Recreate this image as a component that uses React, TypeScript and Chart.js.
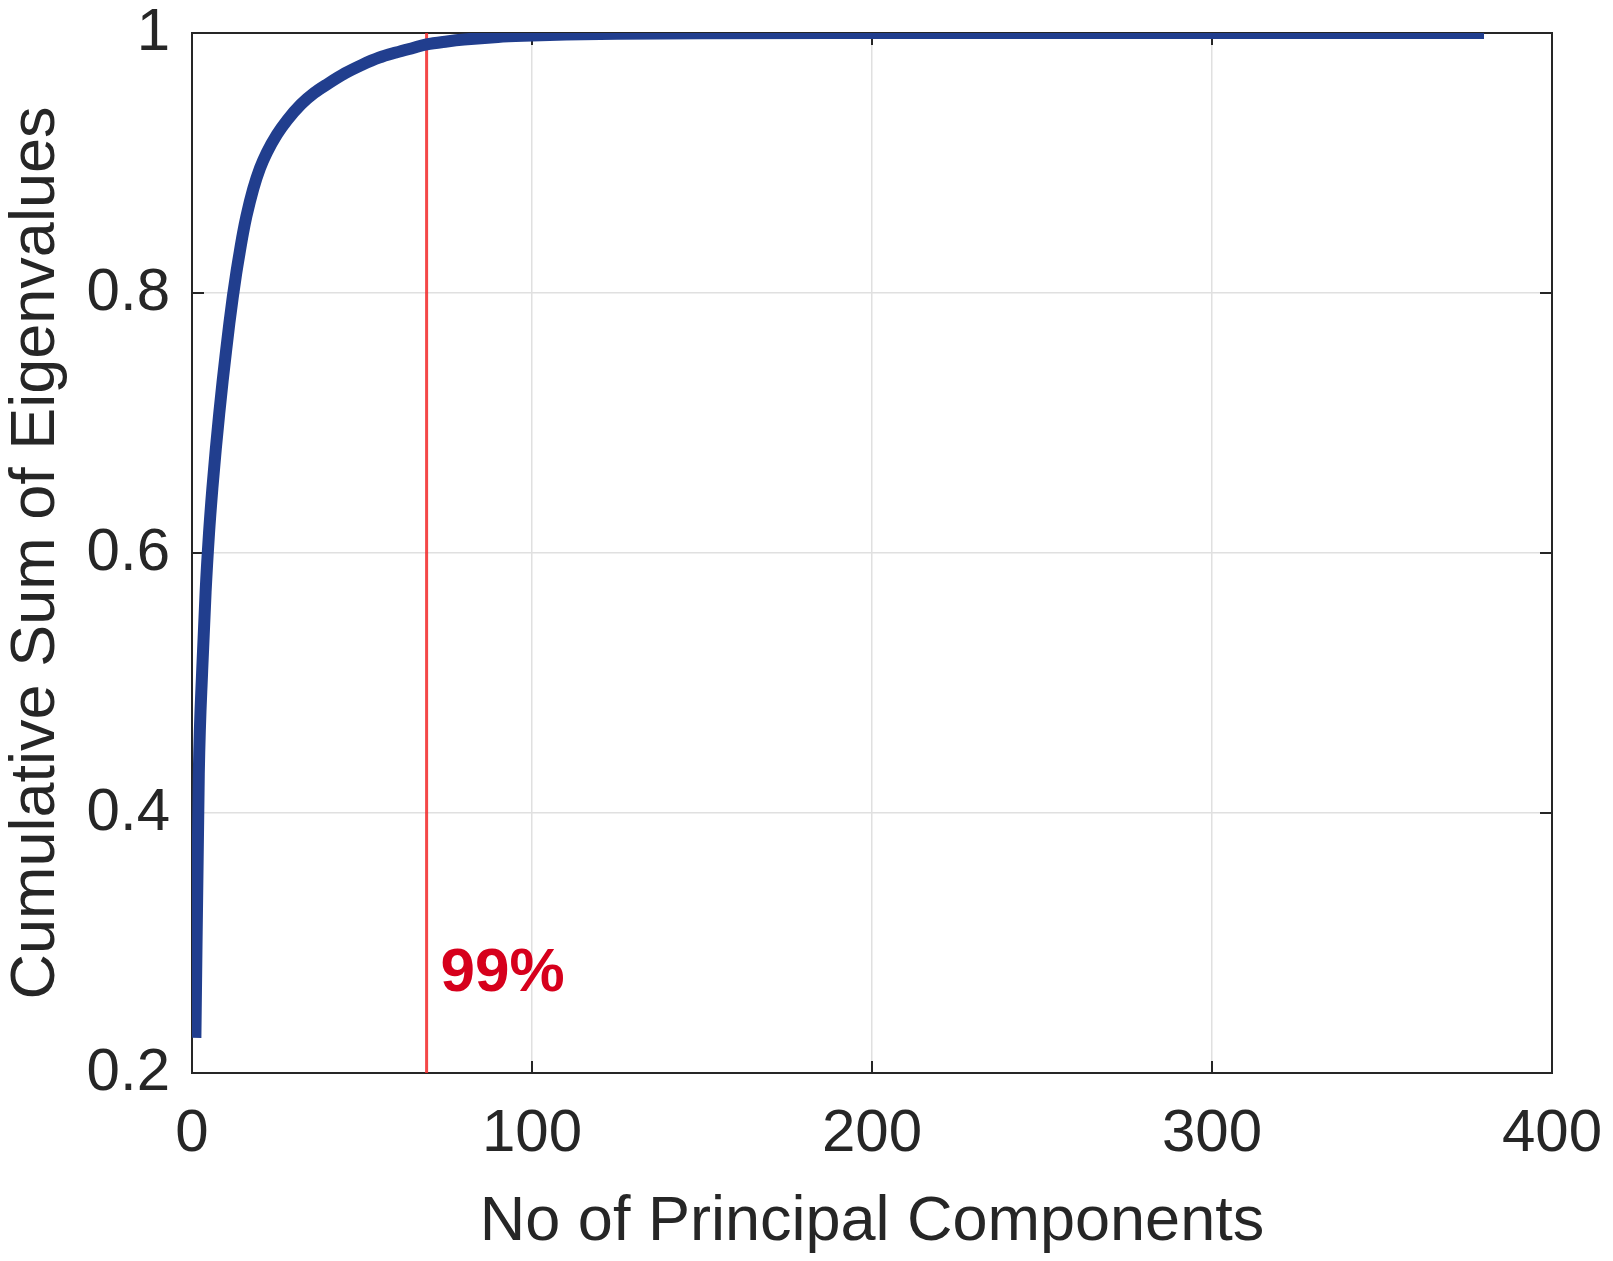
import React, { useEffect, useRef } from "react";
import { Chart, registerables } from "chart.js";

Chart.register(...registerables);

// ---- data ----
const componentNumbers = [1, 2, 3, 4, 5, 6, 7, 8, 9, 10, 11, 12, 13, 14, 15, 16, 18, 20, 22, 25, 28, 32, 36, 40, 45, 50, 55, 60, 65, 69, 75, 80, 90, 100, 110, 125, 150, 200, 250, 380];
const cumulativeSum = [0.227, 0.43, 0.51, 0.57, 0.615, 0.65, 0.68, 0.707, 0.732, 0.755, 0.777, 0.797, 0.815, 0.831, 0.846, 0.859, 0.88, 0.896, 0.908, 0.922, 0.933, 0.945, 0.954, 0.961, 0.969, 0.9755, 0.981, 0.985, 0.9885, 0.9912, 0.9935, 0.995, 0.997, 0.998, 0.9988, 0.9994, 0.9998, 1.0, 1.0, 1.0];
const thresholdComponent = 69;
const thresholdLabel = "99%";
const thresholdLabelY = 0.276;
const xTickValues = [0, 100, 200, 300, 400];
const xTickLabels = ["0", "100", "200", "300", "400"];
const yTickValues = [0.2, 0.4, 0.6, 0.8, 1];
const yTickLabels = ["0.2", "0.4", "0.6", "0.8", "1"];
const xTitle = "No of Principal Components";
const yTitle = "Cumulative Sum of Eigenvalues";

const FONT = "'Liberation Sans', Arial, Helvetica, sans-serif";
const TEXT = "#262626";

function zeroPadding(scale: any) {
  scale.paddingTop = 0;
  scale.paddingBottom = 0;
  scale.paddingLeft = 0;
  scale.paddingRight = 0;
}

export default function App() {
  const ref = useRef<HTMLCanvasElement | null>(null);

  useEffect(() => {
    document.body.style.margin = "0";
    const canvas = ref.current;
    if (!canvas) return;

    const boxPlugin = {
      id: "boxTicks",
      beforeDatasetsDraw(chart: any) {
        const { ctx, chartArea: a, scales } = chart;
        const xs = scales.x;
        const ys = scales.y;
        ctx.save();
        ctx.strokeStyle = TEXT;
        ctx.lineWidth = 2;
        ctx.strokeRect(a.left, a.top, a.right - a.left, a.bottom - a.top);
        const tl = 12;
        ctx.beginPath();
        xTickValues.forEach((v) => {
          const px = xs.getPixelForValue(v);
          ctx.moveTo(px, a.bottom);
          ctx.lineTo(px, a.bottom - tl);
          ctx.moveTo(px, a.top);
          ctx.lineTo(px, a.top + tl);
        });
        yTickValues.forEach((v) => {
          const py = ys.getPixelForValue(v);
          ctx.moveTo(a.left, py);
          ctx.lineTo(a.left + tl, py);
          ctx.moveTo(a.right, py);
          ctx.lineTo(a.right - tl, py);
        });
        ctx.stroke();
        ctx.restore();
      },
      afterDatasetsDraw(chart: any) {
        const { ctx, scales } = chart;
        const px = scales.x.getPixelForValue(thresholdComponent) + 14;
        const py = scales.y.getPixelForValue(thresholdLabelY);
        ctx.save();
        ctx.fillStyle = "#d6001c";
        ctx.font = `bold 62px ${FONT}`;
        ctx.textAlign = "left";
        ctx.textBaseline = "middle";
        ctx.fillText(thresholdLabel, px, py);
        ctx.restore();
      },
    };

    const chart = new Chart(canvas, {
      type: "line",
      data: {
        datasets: [
          {
            data: [
              { x: thresholdComponent, y: yTickValues[0] },
              { x: thresholdComponent, y: yTickValues[yTickValues.length - 1] },
            ],
            borderColor: "rgba(242,40,40,0.85)",
            borderWidth: 3,
            pointRadius: 0,
            fill: false,
            order: 2,
          },
          {
            data: componentNumbers.map((x, i) => ({ x, y: cumulativeSum[i] })),
            borderColor: "#213e8e",
            borderWidth: 12,
            pointRadius: 0,
            fill: false,
            cubicInterpolationMode: "monotone",
            borderCapStyle: "butt",
            borderJoinStyle: "round",
            order: 1,
          },
        ],
      },
      options: {
        responsive: false,
        animation: false,
        devicePixelRatio: 1,
        layout: { padding: { top: 33, right: 61, left: 0, bottom: 0 } },
        plugins: { legend: { display: false }, tooltip: { enabled: false } },
        scales: {
          x: {
            type: "linear",
            min: 0,
            max: 400,
            afterBuildTicks(scale: any) {
              scale.ticks = xTickValues.map((v) => ({ value: v }));
            },
            afterFit(scale: any) {
              scale.height = 188;
              zeroPadding(scale);
            },
            ticks: {
              callback: (v: any) => xTickLabels[xTickValues.indexOf(Number(v))] ?? "",
              font: { family: FONT, size: 60, lineHeight: 1 },
              color: TEXT,
              padding: 31,
              maxRotation: 0,
              autoSkip: false,
            },
            grid: { color: "#e0e0e0", lineWidth: 1.5, drawTicks: false },
            border: { display: false },
            title: {
              display: true,
              text: xTitle,
              color: TEXT,
              font: { family: FONT, size: 63, lineHeight: 1.2 },
              padding: { top: 0, bottom: 1 },
            },
          },
          y: {
            type: "linear",
            min: 0.2,
            max: 1,
            afterBuildTicks(scale: any) {
              scale.ticks = yTickValues.map((v) => ({ value: v }));
            },
            afterFit(scale: any) {
              scale.width = 192;
              zeroPadding(scale);
            },
            ticks: {
              callback: (v: any) => {
                const i = yTickValues.findIndex((t) => Math.abs(t - Number(v)) < 1e-6);
                return i >= 0 ? yTickLabels[i] : "";
              },
              font: { family: FONT, size: 60, lineHeight: 1 },
              color: TEXT,
              padding: 22,
              autoSkip: false,
            },
            grid: { color: "#e0e0e0", lineWidth: 1.5, drawTicks: false },
            border: { display: false },
            title: {
              display: true,
              text: yTitle,
              color: TEXT,
              font: { family: FONT, size: 63, lineHeight: 1.2 },
              padding: { top: -1, bottom: 0 },
            },
          },
        },
      },
      plugins: [boxPlugin],
    } as any);

    return () => chart.destroy();
  }, []);

  return (
    <div style={{ position: "absolute", left: 0, top: 0, width: 1613, height: 1261, background: "#fff" }}>
      <canvas ref={ref} width={1613} height={1261} style={{ width: 1613, height: 1261, display: "block" }} />
    </div>
  );
}
